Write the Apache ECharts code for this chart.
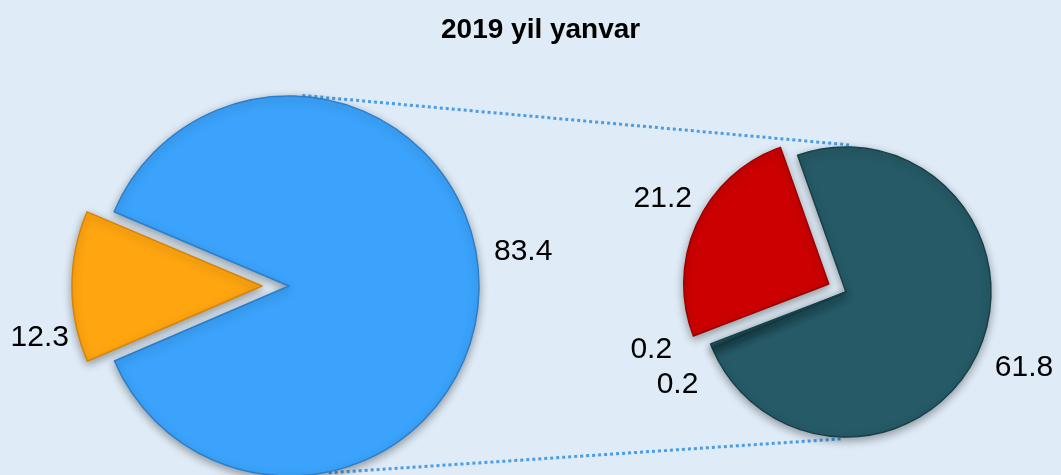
<!DOCTYPE html>
<html>
<head>
<meta charset="utf-8">
<script src="https://cdn.jsdelivr.net/npm/echarts@6/dist/echarts.min.js"></script>
<style>
  html, body { margin: 0; padding: 0; }
  #chart { width: 1061px; height: 475px; }
</style>
</head>
<body>
<div id="chart"></div>
<script>
// main pie
const mainNames = ["Qism 1", "Qism 2"];
const mainValues = [83.4, 12.3];
// breakdown pie
const subNames = ["Qism 1.1", "Qism 1.2", "Qism 1.3", "Qism 1.4"];
const subValues = [21.2, 61.8, 0.2, 0.2];

const mainColors = ["#3ba3fb", "#ffa510"];
const subColors = ["#cc0000", "#255a66", "#2c6a78", "#2c6a78"];
const borderColors = { "#3ba3fb": "#2a7fcc", "#ffa510": "#d98400", "#cc0000": "#990000", "#255a66": "#17404a", "#2c6a78": "#17404a" };

// label nudges to match the original placement
const mainLabelShift = [[-20, -34], [32, 51]];
const subLabelShift = [[28, -16], [-17, 9], [20, 0], [-2, -3]];

const chart = echarts.init(document.getElementById("chart"));

const mainC = [289, 286], mainR = 190;
const subC = [846, 292], subR = 145;

function pt(c, r, deg) {
  const a = deg * Math.PI / 180;
  return [c[0] + r * Math.cos(a), c[1] - r * Math.sin(a)];
}

function connector(p1, p2) {
  return {
    type: "line",
    z: 0,
    shape: { x1: p1[0], y1: p1[1], x2: p2[0], y2: p2[1] },
    style: { stroke: "#4a9de6", lineWidth: 3, lineDash: [3, 3] }
  };
}

function slices(names, values, colors, selIdx) {
  return values.map((v, i) => ({
    name: names[i],
    value: v,
    selected: i === selIdx,
    itemStyle: {
      color: colors[i],
      borderColor: borderColors[colors[i]],
      borderWidth: 1.5
    }
  }));
}

const labelStyle = {
  show: true,
  position: "outside",
  formatter: "{c}",
  fontSize: 30,
  overflow: "none",
  fontFamily: "Liberation Sans, Arial, sans-serif",
  color: "#000"
};

function shifter(shifts) {
  return params => ({ dx: shifts[params.dataIndex][0], dy: shifts[params.dataIndex][1] });
}

const option = {
  backgroundColor: "#dfebf6",
  animation: false,
  title: {
    text: "2019 yil yanvar",
    left: 436,
    top: 11,
    textStyle: { fontSize: 28, fontWeight: "bold", color: "#000", fontFamily: "Liberation Sans, Arial, sans-serif" }
  },
  graphic: [
    connector(pt(mainC, mainR + 1, 86), pt(subC, subR + 2, 88)),
    connector(pt(mainC, mainR + 1, -78), pt(subC, subR + 2, -92))
  ],
  series: [
    {
      type: "pie",
      center: mainC,
      radius: [0, mainR],
      startAngle: 157,
      selectedMode: "single",
      selectedOffset: 27,
      avoidLabelOverlap: false,
      emphasis: { disabled: true },
      itemStyle: { shadowColor: "rgba(0,0,0,0.35)", shadowBlur: 8, shadowOffsetY: 3 },
      label: labelStyle,
      labelLine: { show: false, length: 20, length2: 10 },
      labelLayout: shifter(mainLabelShift),
      data: slices(mainNames, mainValues, mainColors, 1)
    },
    {
      type: "pie",
      center: subC,
      radius: [0, subR],
      startAngle: 201,
      selectedMode: "single",
      selectedOffset: 19,
      avoidLabelOverlap: true,
      emphasis: { disabled: true },
      itemStyle: { shadowColor: "rgba(0,0,0,0.35)", shadowBlur: 8, shadowOffsetY: 3 },
      label: labelStyle,
      labelLine: { show: false, length: 20, length2: 10 },
      labelLayout: shifter(subLabelShift),
      data: slices(subNames, subValues, subColors, 0)
    }
  ]
};

chart.setOption(option);
</script>
</body>
</html>
